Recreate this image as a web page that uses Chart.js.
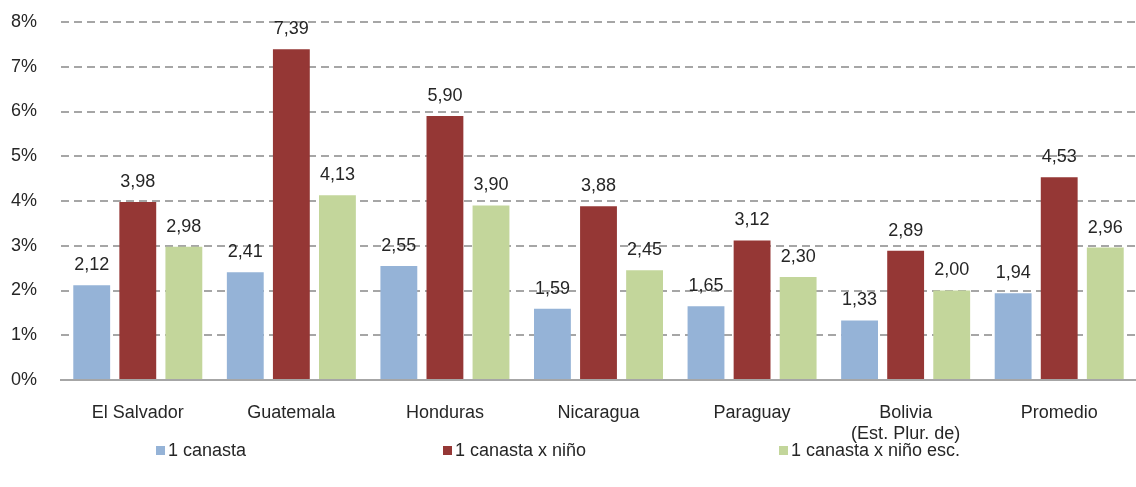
<!DOCTYPE html>
<html>
<head>
<meta charset="utf-8">
<script src="https://cdn.jsdelivr.net/npm/chart.js@4"></script>
<style>
  html, body { margin: 0; padding: 0; background: #fff; }
  #wrap { width: 1136px; height: 487px; position: relative; }
</style>
</head>
<body>
<div id="wrap"><canvas id="chart"></canvas></div>
<script>
// datos del gráfico
const categories = ['El Salvador', 'Guatemala', 'Honduras', 'Nicaragua', 'Paraguay', ['Bolivia', '(Est. Plur. de)'], 'Promedio'];
const seriesNames = ['1 canasta', '1 canasta x niño', '1 canasta x niño esc.'];
const canasta = [2.12, 2.41, 2.55, 1.59, 1.65, 1.33, 1.94];
const canastaNino = [3.98, 7.39, 5.90, 3.88, 3.12, 2.89, 4.53];
const canastaNinoEsc = [2.98, 4.13, 3.90, 2.45, 2.30, 2.00, 2.96];
const yTicks = [0, 1, 2, 3, 4, 5, 6, 7, 8];

const colors = ['#95B3D7', '#953735', '#C3D69B'];
const textColor = '#262626';
const fontFamily = '"Liberation Sans", Arial, sans-serif';

// etiquetas de valor encima de las barras
const valueLabels = {
  id: 'valueLabels',
  afterDatasetsDraw(chart) {
    const ctx = chart.ctx;
    ctx.save();
    ctx.font = '18px ' + fontFamily;
    ctx.fillStyle = textColor;
    ctx.textAlign = 'center';
    ctx.textBaseline = 'middle';
    chart.data.datasets.forEach((ds, i) => {
      chart.getDatasetMeta(i).data.forEach((bar, j) => {
        ctx.fillText(ds.data[j].toFixed(2).replace('.', ','), bar.x, bar.y - 20);
      });
    });
    ctx.restore();
  }
};

// leyenda abajo, separada como en el original
const legendX = [156, 443, 779];
const bottomLegend = {
  id: 'bottomLegend',
  afterDraw(chart) {
    const ctx = chart.ctx;
    ctx.save();
    ctx.font = '18px ' + fontFamily;
    ctx.textBaseline = 'middle';
    chart.data.datasets.forEach((ds, i) => {
      const x = legendX[i];
      const y = 451;
      ctx.fillStyle = ds.backgroundColor;
      ctx.fillRect(x, y - 5, 9, 9);
      ctx.fillStyle = textColor;
      ctx.fillText(ds.label, x + 12, y);
    });
    ctx.restore();
  }
};

const ctx = document.getElementById('chart').getContext('2d');
new Chart(ctx, {
  type: 'bar',
  data: {
    labels: categories,
    datasets: [
      { label: seriesNames[0], data: canasta, backgroundColor: colors[0] },
      { label: seriesNames[1], data: canastaNino, backgroundColor: colors[1] },
      { label: seriesNames[2], data: canastaNinoEsc, backgroundColor: colors[2] }
    ]
  },
  options: {
    responsive: true,
    maintainAspectRatio: false,
    animation: false,
    layout: { padding: { top: 22, bottom: 37, left: 0, right: 0 } },
    datasets: { bar: { categoryPercentage: 0.9, barPercentage: 0.8 } },
    plugins: { legend: { display: false }, tooltip: { enabled: false } },
    scales: {
      x: {
        grid: { display: false },
        border: { display: true, color: '#A6A6A6', width: 2 },
        ticks: { color: textColor, font: { family: fontFamily, size: 18 }, padding: 14, maxRotation: 0, autoSkip: false },
        afterFit: s => { s.height = 70; }
      },
      y: {
        min: 0,
        max: 8,
        afterBuildTicks: s => { s.ticks = yTicks.map(v => ({ value: v })); },
        grid: { color: '#A6A6A6', lineWidth: 2, drawTicks: false },
        border: { display: false, dash: [8, 5] },
        ticks: { color: textColor, font: { family: fontFamily, size: 18 }, padding: 24, callback: v => v + '%' },
        afterFit: s => {
          s.width = 61;
          // el padding de ticks no debe empujar el área del gráfico
          s.paddingTop = 11;
          s.paddingBottom = 0;
        }
      }
    }
  },
  plugins: [valueLabels, bottomLegend]
});
</script>
</body>
</html>
